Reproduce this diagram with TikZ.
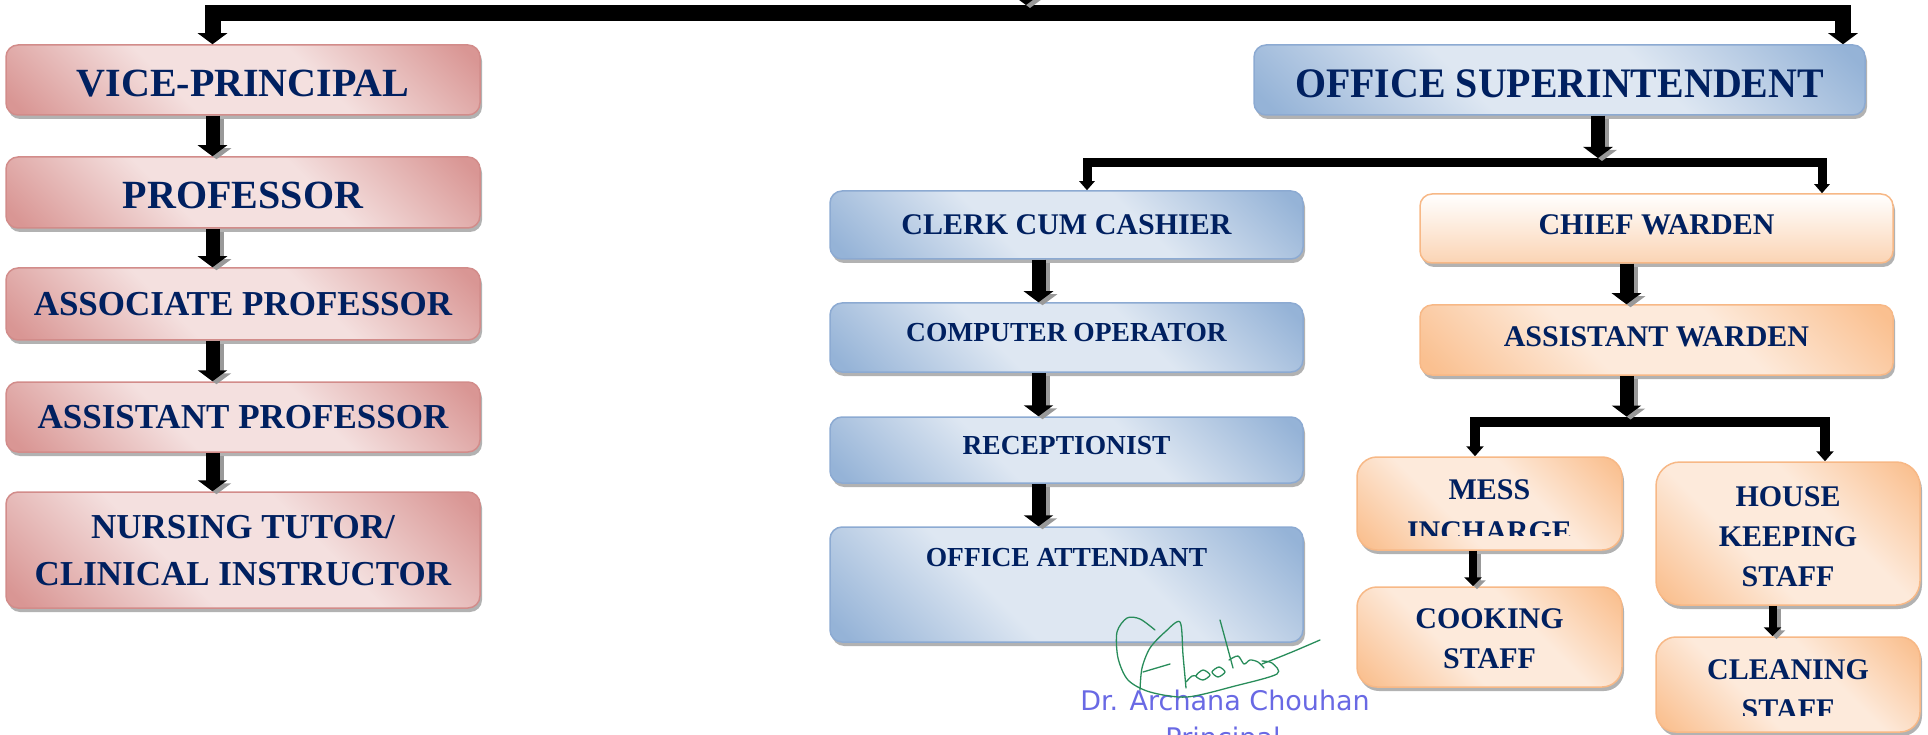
\documentclass[tikz,border=0pt]{standalone}
\usepackage{fontspec}
\usepackage{graphicx}
\setmainfont{Liberation Serif}
\newfontfamily\stampfont{DejaVu Sans}
\usetikzlibrary{arrows.meta,shadows}
\definecolor{navy}{RGB}{0,32,96}
\definecolor{pinkD}{RGB}{217,150,148}
\definecolor{pinkL}{RGB}{244,224,223}
\definecolor{pinkB}{RGB}{210,140,138}
\definecolor{blueD}{RGB}{149,179,215}
\definecolor{blueL}{RGB}{222,231,242}
\definecolor{blueB}{RGB}{140,170,210}
\definecolor{orD}{RGB}{250,192,144}
\definecolor{orL}{RGB}{253,234,219}
\definecolor{orC}{RGB}{251,212,180}
\definecolor{orB}{RGB}{247,184,134}
\definecolor{sigG}{RGB}{40,140,90}
\definecolor{stampB}{RGB}{105,105,228}
\pgfdeclareverticalshading{pinkshade}{100bp}{color(0bp)=(pinkD); color(17bp)=(pinkD); color(40bp)=(pinkL); color(60bp)=(pinkL); color(83bp)=(pinkD); color(100bp)=(pinkD)}
\pgfdeclareverticalshading{blueshade}{100bp}{color(0bp)=(blueD); color(17bp)=(blueD); color(40bp)=(blueL); color(60bp)=(blueL); color(83bp)=(blueD); color(100bp)=(blueD)}
\pgfdeclareverticalshading{orshade}{100bp}{color(0bp)=(orD); color(17bp)=(orD); color(40bp)=(orL); color(60bp)=(orL); color(83bp)=(orD); color(100bp)=(orD)}
\tikzset{
  box/.style={rounded corners=12pt, line width=1.5pt, inner sep=0pt, text=navy, align=center,
    drop shadow={shadow xshift=2pt, shadow yshift=-4pt, fill=black, opacity=.3}},
  pinkbox/.style={box, draw=pinkB, shading=pinkshade, shading angle=-45, minimum width=474pt},
  bluebox/.style={box, draw=blueB, shading=blueshade, shading angle=-45, minimum width=473pt},
  orbox/.style={box, draw=orB, shading=orshade, shading angle=-45},
  lbl/.style={text=navy, align=center, inner sep=0pt},
  fA/.style={font=\bfseries\fontsize{40pt}{48pt}\selectfont},
  fB/.style={font=\bfseries\fontsize{35pt}{47pt}\selectfont},
  fC/.style={font=\bfseries\fontsize{30pt}{40pt}\selectfont},
  fD/.style={font=\bfseries\fontsize{27.5pt}{36pt}\selectfont},
  down3/.style={text height=33pt, text depth=0pt},
  up3/.style={text height=20pt, text depth=7pt},
  fat/.style={line width=14pt, -{Triangle[width=29pt,length=11pt]}},
  slim/.style={line width=8pt, -{Triangle[width=17pt,length=9pt]}},
  barA/.style={line width=16pt, line join=miter, {Triangle[width=29pt,length=11pt]}-{Triangle[width=29pt,length=11pt]}},
  barB/.style={line width=9pt, line join=miter, {Triangle[width=15pt,length=9pt]}-{Triangle[width=15pt,length=9pt]}},
  barC/.style={line width=10pt, line join=miter, {Triangle[width=17pt,length=10pt]}-{Triangle[width=17pt,length=10pt]}},
  sig/.style={draw=sigG, line width=1.3pt, line cap=round, line join=round},
  stamp/.style={text=stampB, inner sep=0pt, font=\stampfont\fontsize{27pt}{32pt}\selectfont},
}
\newcommand\fatlink[3][fat]{%
  \draw[#1, draw=black!40, transform canvas={xshift=4pt,yshift=-3pt}] #2 -- #3;
  \draw[#1] #2 -- #3;}
\begin{document}
\begin{tikzpicture}[x=1pt,y=-1pt]
\useasboundingbox (0,0) rectangle (1928,735);
% left column
\node[pinkbox, minimum height=70pt, fA, down3] (vp) at (243,80) {VICE-PRINCIPAL};
\node[pinkbox, minimum height=71pt, fA, down3] (prof) at (243,192.5) {PROFESSOR};
\node[pinkbox, minimum height=72pt, fB] (assoc) at (243,304) {ASSOCIATE PROFESSOR};
\node[pinkbox, minimum height=70pt, fB] (asst) at (243,417) {ASSISTANT PROFESSOR};
\node[pinkbox, minimum height=116pt] (nurse) at (243,550) {};
\node[lbl, fB] (nurset) at (243,551) {NURSING TUTOR/\\CLINICAL INSTRUCTOR};
% office column
\node[bluebox, minimum width=611pt, minimum height=70pt, font=\bfseries\fontsize{42pt}{48pt}\selectfont, text height=35pt, text depth=0pt] (os) at (1559.5,80) {\scalebox{0.95}[1]{OFFICE SUPERINTENDENT}};
\node[bluebox, minimum height=68pt, fC] (clerk) at (1066.5,225) {CLERK CUM CASHIER};
\node[bluebox, minimum height=69pt] (comp) at (1066.5,337.5) {};
\node[lbl, fD] (compt) at (1066.5,333) {COMPUTER OPERATOR};
\node[bluebox, minimum height=66pt] (rec) at (1066.5,450) {};
\node[lbl, fD] (rect) at (1066.5,446) {RECEPTIONIST};
\node[bluebox, minimum height=115pt] (oa) at (1066.5,584.5) {};
\node[lbl, fD] (oat) at (1066.5,558) {OFFICE ATTENDANT};
% warden column
\node[box, draw=orB, top color=white, bottom color=orC, minimum width=473pt, minimum height=69pt, fC, up3] (cw) at (1656.5,228.5) {CHIEF WARDEN};
\node[orbox, minimum width=473pt, minimum height=70pt, fC, up3] (aw) at (1656.5,340) {ASSISTANT WARDEN};
\node[orbox, rounded corners=20pt, minimum width=265pt, minimum height=93pt] (mess) at (1489.5,503.5) {};
\node[orbox, rounded corners=20pt, minimum width=265pt, minimum height=100pt] (cook) at (1489.5,637) {};
\node[orbox, rounded corners=24pt, minimum width=264pt, minimum height=143pt] (house) at (1788,533.5) {};
\node[orbox, rounded corners=20pt, minimum width=264pt, minimum height=95pt] (clean) at (1788,684.5) {};
\begin{scope}
  \clip (1357,457) rectangle (1622,535);
  \node[lbl, font=\bfseries\fontsize{30pt}{42pt}\selectfont] (messt) at (1489.5,511) {MESS\\INCHARGE};
\end{scope}
\node[lbl, fC] (cookt) at (1489.5,639) {COOKING\\STAFF};
\node[lbl, fC] (houset) at (1788,536.5) {HOUSE\\KEEPING\\STAFF};
\begin{scope}
  \clip (1656,637) rectangle (1920,715);
  \node[lbl, fC] (cleant) at (1788,690) {CLEANING\\STAFF};
\end{scope}
% junction points
\coordinate (princ) at (1026,-40);
\coordinate (topjoin) at (1026,13);
\coordinate (osjoin) at (1598,162.5);
\coordinate (awjoin) at (1626.5,421.5);
% bars
\draw[barA] ([xshift=-30.5pt]vp.north) |- (topjoin) -| ([xshift=283.5pt]os.north);
\draw[barB] ([xshift=20.5pt]clerk.north) |- (osjoin) -| ([xshift=165.5pt]cw.north);
\draw[barC] ([xshift=-14.5pt]mess.north) |- (awjoin) -| ([xshift=37pt]house.north);
% arrows
\fatlink{(princ)}{([yshift=8pt]topjoin)}
\fatlink{([xshift=-30.5pt]vp.south)}{([xshift=-30.5pt]prof.north)}
\fatlink{([xshift=-30.5pt]prof.south)}{([xshift=-30.5pt]assoc.north)}
\fatlink{([xshift=-30.5pt]assoc.south)}{([xshift=-30.5pt]asst.north)}
\fatlink{([xshift=-30.5pt]asst.south)}{([xshift=-30.5pt]nurse.north)}
\fatlink{([xshift=38.5pt]os.south)}{([yshift=4.5pt]osjoin)}
\fatlink{([xshift=-28pt]clerk.south)}{([xshift=-28pt]comp.north)}
\fatlink{([xshift=-28pt]comp.south)}{([xshift=-28pt]rec.north)}
\fatlink{([xshift=-28pt]rec.south)}{([xshift=-28pt]oa.north)}
\fatlink{([xshift=-30pt]cw.south)}{([xshift=-30pt]aw.north)}
\fatlink{([xshift=-30pt]aw.south)}{([yshift=5pt]awjoin)}
\fatlink[slim]{([xshift=-16.5pt]mess.south)}{([xshift=-16.5pt]cook.north)}
\fatlink[slim]{([xshift=-15.5pt]house.south)}{([xshift=-15.5pt]clean.north)}
% stamp and signature
\node[stamp] (stamp1) at (1225,700) {Dr. Archana Chouhan};
\node[stamp] (stamp2) at (1223,740) {Principal};
\draw[sig] plot[smooth] coordinates {(1155,630) (1140,619) (1127,618) (1117,632) (1118,658) (1128,680) (1150,692) (1187,697) (1235,686) (1277,674) (1272,663) (1262,661)};
\draw[sig] plot[smooth] coordinates {(1262,664) (1292,652) (1320,640)};
\draw[sig] plot[smooth] coordinates {(1140,690) (1142,668) (1150,648) (1165,632) (1180,622) (1183,655) (1186,688)};
\draw[sig] (1143,672) -- (1170,664);
\draw[sig] plot[smooth] coordinates {(1220,620) (1226,642) (1233,668)};
\draw[sig] plot[smooth] coordinates {(1229,660) (1238,656) (1244,664) (1250,660) (1258,662) (1264,668)};
\draw[sig] plot[smooth cycle] coordinates {(1196,676) (1203,670) (1210,675) (1203,680)};
\draw[sig] plot[smooth cycle] coordinates {(1212,672) (1219,667) (1225,672) (1218,677)};
\draw[sig] plot[smooth] coordinates {(1186,682) (1192,676) (1196,676)};
\end{tikzpicture}
\end{document}
